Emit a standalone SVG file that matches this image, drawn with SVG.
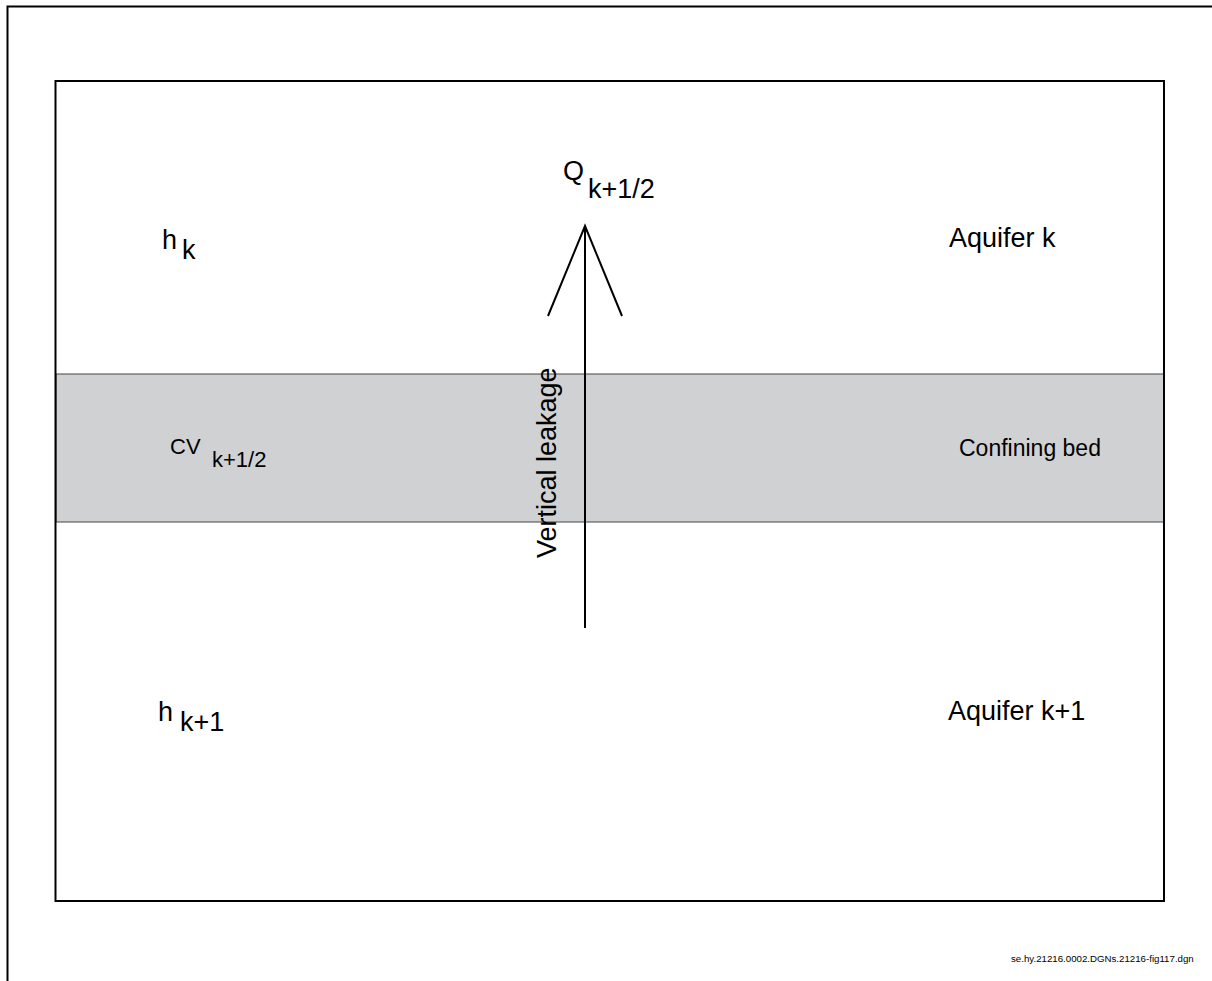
<svg xmlns="http://www.w3.org/2000/svg" width="1212" height="981" viewBox="0 0 1212 981">
  <style>
    .lbl { font-family: "Liberation Sans", Arial, sans-serif; fill: #000; }
    .frame { fill: none; stroke: #000; }
    .arrow { fill: none; stroke: #000; stroke-width: 2; }
  </style>
  <rect width="1212" height="981" fill="#fff"/>

  <!-- sheet border -->
  <g id="sheet">
    <polyline class="frame" stroke-width="2" points="7.5,981 7.5,6.5 1212,6.5"/>
  </g>

  <!-- confining bed band -->
  <g id="confining-bed">
    <rect x="56" y="374" width="1108" height="148" fill="#d0d1d3" stroke="#444" stroke-width="1"/>
    <text class="lbl" x="959" y="456" font-size="23">Confining bed</text>
    <text class="lbl" x="170" y="454" font-size="22">CV</text>
    <text class="lbl" x="212" y="467" font-size="22">k+1/2</text>
  </g>

  <!-- section outline -->
  <g id="section">
    <rect class="frame" x="55.5" y="81" width="1108.5" height="820" stroke-width="2"/>
  </g>

  <g id="aquifer-k">
    <text class="lbl" x="949" y="247" font-size="27">Aquifer k</text>
    <text class="lbl" x="162" y="249" font-size="27">h</text>
    <text class="lbl" x="182" y="259" font-size="27">k</text>
  </g>

  <g id="aquifer-k1">
    <text class="lbl" x="948" y="720" font-size="27">Aquifer k+1</text>
    <text class="lbl" x="158" y="721" font-size="27">h</text>
    <text class="lbl" x="180" y="731" font-size="27">k+1</text>
  </g>

  <!-- leakage arrow -->
  <g id="connectors">
    <line class="arrow" x1="585" y1="628" x2="585" y2="226"/>
    <polyline class="arrow" points="548,316 585,226 622,316"/>
  </g>

  <g id="leakage-labels">
    <text class="lbl" x="563" y="180" font-size="27">Q</text>
    <text class="lbl" x="588" y="198" font-size="27">k+1/2</text>
    <text class="lbl" font-size="27" transform="translate(556 558) rotate(-90)">Vertical leakage</text>
  </g>

  <text class="lbl" x="1011" y="962" font-size="9.7">se.hy.21216.0002.DGNs.21216-fig117.dgn</text>
</svg>
